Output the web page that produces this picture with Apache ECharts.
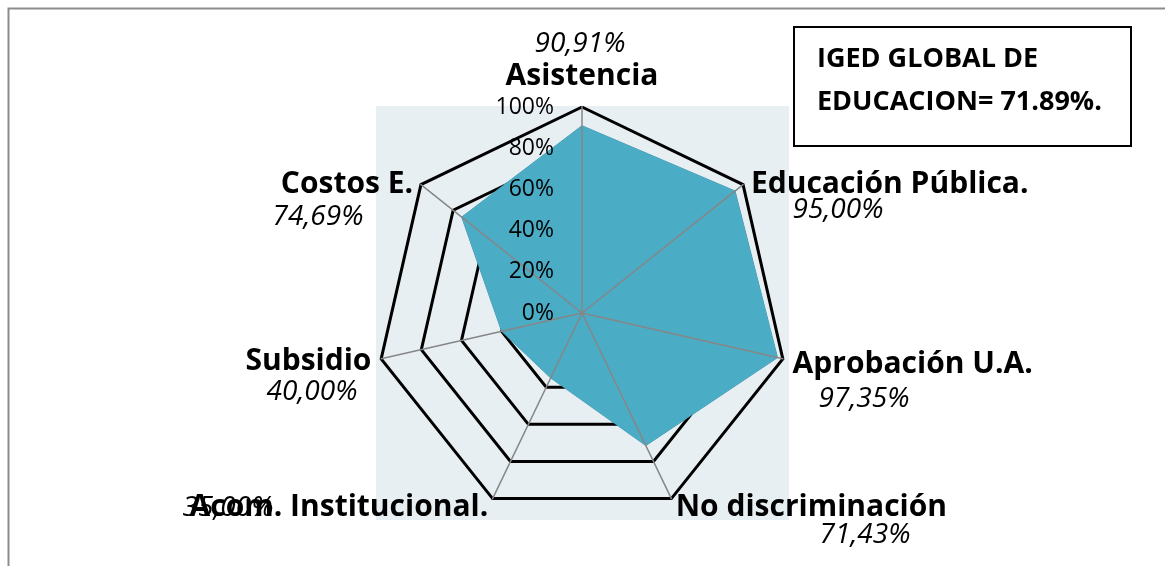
<!DOCTYPE html>
<html>
<head>
<meta charset="utf-8">
<script src="https://cdn.jsdelivr.net/npm/echarts@6/dist/echarts.min.js"></script>
<style>
  html, body { margin: 0; padding: 0; background: #fff; }
  #chart { width: 1165px; height: 566px; }
</style>
</head>
<body>
<div id="chart"></div>
<script>
// Components of the education indicator, clockwise from the top
const categories = ['Asistencia', 'Educación Pública.', 'Aprobación U.A.', 'No discriminación', 'Acom. Institucional.', 'Subsidio', 'Costos E.'];
const values = [90.91, 95.00, 97.35, 71.43, 35.00, 40.00, 74.69];
const tickLabels = ['0%', '20%', '40%', '60%', '80%', '100%'];
const summaryLines = ['IGED GLOBAL DE', 'EDUCACION= 71.89%.'];

// Where each value caption sits next to its category name
const valueLabelPos = [[580, 44], [838, 210], [864, 399], [865, 535], [228, 508], [312, 392], [318, 217]];
// Rich-text style key per category name (some names are nudged from the default spot)
const nameStyleKey = ['u', 'd', 'a', 'n', 'n', 'n', 'd'];

const CENTER = [582, 313];
const RADIUS = 206;
const font = '"Open Sans", sans-serif';

// ECharts lays radar indicators out counter-clockwise, so walk the list backwards after the first
const order = [0].concat(categories.slice(1).map((_, i) => categories.length - 1 - i));
const indicatorsBase = order.map(i => ({ name: categories[i], min: 0, max: 100 }));
const seriesValues = order.map(i => values[i]);

const fmt = v => v.toFixed(2).replace('.', ',') + '%';

const chart = echarts.init(document.getElementById('chart'), null, { renderer: 'canvas' });

const graphics = [
  // outer chart frame
  { type: 'rect', z: -20, shape: { x: 8.5, y: 8.5, width: 1200, height: 600 },
    style: { fill: '#fff', stroke: '#8c8c8c', lineWidth: 2 } },
  // plot area
  { type: 'rect', z: -10, shape: { x: 376, y: 106, width: 413, height: 414 },
    style: { fill: '#e8eff3' } },
  // summary box
  { type: 'rect', z: 10, shape: { x: 794, y: 27, width: 337, height: 119 },
    style: { fill: '#fff', stroke: '#000', lineWidth: 2 } },
  { type: 'text', z: 11, x: 817, y: 59,
    style: { text: summaryLines[0], font: 'bold 27px ' + font, fill: '#000', verticalAlign: 'middle' } },
  { type: 'text', z: 11, x: 817, y: 102,
    style: { text: summaryLines[1], font: 'bold 27px ' + font, fill: '#000', verticalAlign: 'middle' } }
];
values.forEach((v, i) => {
  graphics.push({
    type: 'text', z: 12, x: valueLabelPos[i][0], y: valueLabelPos[i][1],
    style: { text: fmt(v), font: 'italic 28px ' + font, fill: '#000', align: 'center', verticalAlign: 'middle' }
  });
});

const nameBase = { color: '#000', fontSize: 30, fontWeight: 'bold', fontFamily: font };
const nameRich = {
  n: nameBase,
  u: Object.assign({}, nameBase, { padding: [0, 0, 6, 0] }),
  d: Object.assign({}, nameBase, { padding: [12, 0, 0, 0] }),
  a: Object.assign({}, nameBase, { padding: [6, 0, 0, 0] })
};

chart.setOption({
  animation: false,
  backgroundColor: '#fff',
  graphic: graphics,
  radar: [
    {
      // rings and category names, beneath the filled area
      z: 1,
      center: CENTER,
      radius: RADIUS,
      startAngle: 90,
      splitNumber: 5,
      shape: 'polygon',
      indicator: indicatorsBase,
      axisName: {
        formatter: name => '{' + nameStyleKey[categories.indexOf(name)] + '|' + name + '}',
        rich: nameRich
      },
      nameGap: 10,
      axisLine: { show: false },
      splitLine: { lineStyle: { color: '#000', width: 3 } },
      splitArea: { show: false }
    },
    {
      // spokes and the percentage scale, drawn over the filled area
      z: 5,
      center: CENTER,
      radius: RADIUS,
      startAngle: 90,
      splitNumber: 5,
      shape: 'polygon',
      indicator: indicatorsBase.map((ind, k) => Object.assign({}, ind, {
        name: '',
        axisLabel: {
          show: k === 0,
          color: '#000',
          fontSize: 23,
          fontFamily: font,
          margin: 28,
          formatter: (val, idx) => tickLabels[idx]
        }
      })),
      axisName: { show: false },
      axisLine: { lineStyle: { color: '#868686', width: 1.5 } },
      splitLine: { show: false },
      splitArea: { show: false }
    }
  ],
  series: [{
    type: 'radar',
    radarIndex: 0,
    z: 2,
    symbol: 'none',
    lineStyle: { color: '#3c93ab', width: 1 },
    areaStyle: { color: '#4bacc6', opacity: 1 },
    data: [{ value: seriesValues, name: 'IGED' }]
  }]
});
</script>
</body>
</html>
